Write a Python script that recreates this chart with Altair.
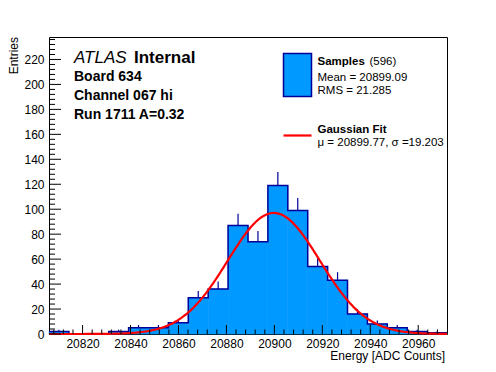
import altair as alt
import pandas as pd
import numpy as np

# ---- data ----
x_lo = 20806.0
bin_width = 8.3
counts = [2, 0, 0, 2, 5, 5, 9, 29, 36, 87, 74, 119, 99, 54, 43, 16, 8, 5, 2, 1]
y_max = 238.0
x_major = [20820, 20840, 20860, 20880, 20900, 20920, 20940, 20960]
x_minor = [v for v in range(20808, 20972, 4) if v % 20 != 0]
y_major = list(range(0, 221, 20))
y_minor = [v for v in range(4, 238, 4) if v % 20 != 0]
fit_mu = 20899.77
fit_sigma = 19.203
fit_amp = 97.0
n_entries = 596
mean_txt = "Mean = 20899.09"
rms_txt = "RMS = 21.285"
fit_txt = "\u03bc = 20899.77, \u03c3 =19.203"

x_hi = x_lo + bin_width * len(counts)
FONT = "Liberation Sans"
FILL = "#0099ff"
EDGE = "#000099"

W, H = 398, 297
xs = alt.Scale(domain=[x_lo, x_hi], nice=False, zero=False)
ys = alt.Scale(domain=[0, y_max], nice=False, zero=True)
xaxis = alt.Axis(values=x_major, format="d", tickSize=0, domain=False, grid=False, title=None,
                 labelFont=FONT, labelFontSize=12, labelPadding=4, labelColor="black")
yaxis = alt.Axis(values=y_major, format="d", tickSize=0, domain=False, grid=False, title=None,
                 labelFont=FONT, labelFontSize=12, labelPadding=5, labelColor="black")

lefts = [x_lo + i * bin_width for i in range(len(counts))]
bars = pd.DataFrame({
    "x0": lefts,
    "x1": [l + bin_width for l in lefts],
    "xc": [l + bin_width / 2 for l in lefts],
    "n": counts,
    "etop": [c + np.sqrt(c) for c in counts],
})
errs = bars[bars["n"] > 0]

outline = pd.DataFrame({
    "x0": lefts + [x_hi],
    "n": counts + [counts[-1]],
})

xx = np.linspace(x_lo, x_hi, 400)
fit = pd.DataFrame({"x0": xx, "n": fit_amp * np.exp(-0.5 * ((xx - fit_mu) / fit_sigma) ** 2)})

X = alt.X("x0:Q", scale=xs, axis=xaxis, title=None)
Y = alt.Y("n:Q", scale=ys, axis=yaxis, title=None)

bar_layer = alt.Chart(bars).mark_rect(fill=FILL, stroke=FILL, strokeWidth=0.6).encode(
    x=X, x2="x1:Q", y=Y, y2=alt.datum(0),
)

err_layer = alt.Chart(errs).mark_rule(color=EDGE, strokeWidth=1.2).encode(
    x=alt.X("xc:Q", scale=xs, axis=xaxis, title=None),
    y=Y,
    y2="etop:Q",
)

out_layer = alt.Chart(outline).mark_line(color=EDGE, strokeWidth=1.5, interpolate="step-after").encode(
    x=X, y=Y,
)

fit_layer = alt.Chart(fit).mark_line(color="#ff0000", strokeWidth=2.2).encode(
    x=X, y=Y,
)

def yticks(vals, length):
    return alt.Chart(pd.DataFrame({"n": vals})).mark_rule(color="black", strokeWidth=1).encode(
        y=Y, x=alt.value(0), x2=alt.value(length))

def xticks(vals, length):
    return alt.Chart(pd.DataFrame({"x0": vals})).mark_rule(color="black", strokeWidth=1).encode(
        x=X, y=alt.value(H), y2=alt.value(H - length))

def txt(s, px, py, size=12, weight="normal", style="normal", align="left", angle=0, baseline="alphabetic"):
    return alt.Chart(pd.DataFrame({"t": [s]})).mark_text(
        font=FONT, fontSize=size, fontWeight=weight, fontStyle=style, align=align,
        baseline=baseline, angle=angle, color="black").encode(
        x=alt.value(px), y=alt.value(py), text="t:N")

legend_box = alt.Chart(pd.DataFrame({"a": [0]})).mark_rect(fill=FILL, stroke=EDGE, strokeWidth=1.5).encode(
    x=alt.value(234.5), x2=alt.value(262.5), y=alt.value(16.5), y2=alt.value(59.5))
legend_line = alt.Chart(pd.DataFrame({"a": [0]})).mark_rule(color="#ff0000", strokeWidth=2.2).encode(
    x=alt.value(234.5), x2=alt.value(262.5), y=alt.value(98.5))

LS = 11.5
layers = [
    bar_layer, err_layer, out_layer, fit_layer,
    yticks(y_major, 12), yticks(y_minor, 6), xticks(x_major, 9), xticks(x_minor, 4.5),
    txt("ATLAS", 25, 26, size=17, style="italic"),
    txt("Internal", 85, 26, size=17, weight="bold"),
    txt("Board 634", 25, 44, size=14, weight="bold"),
    txt("Channel 067 hi", 25, 63, size=14, weight="bold"),
    txt("Run 1711 A=0.32", 25, 82, size=14, weight="bold"),
    legend_box, legend_line,
    txt("Samples", 268.5, 28, size=LS, weight="bold"),
    txt("(" + str(n_entries) + ")", 320.5, 28, size=LS),
    txt(mean_txt, 268.5, 44, size=LS),
    txt(rms_txt, 268.5, 56.5, size=LS),
    txt("Gaussian Fit", 268.5, 96, size=LS, weight="bold"),
    txt(fit_txt, 268.5, 109, size=LS),
    txt("Energy [ADC Counts]", 396, 323, align="right"),
    txt("Entries", -31, 0, size=12, align="right", angle=270, baseline="alphabetic"),
]

chart = alt.layer(*layers).properties(
    width=W, height=H,
    autosize=alt.AutoSizeParams(type="none"),
    padding={"left": 41, "top": 29, "right": 41, "bottom": 36},
).configure_view(stroke="black", strokeWidth=1)

chart.save("out.html", embed_options={"renderer": "svg", "actions": False})
